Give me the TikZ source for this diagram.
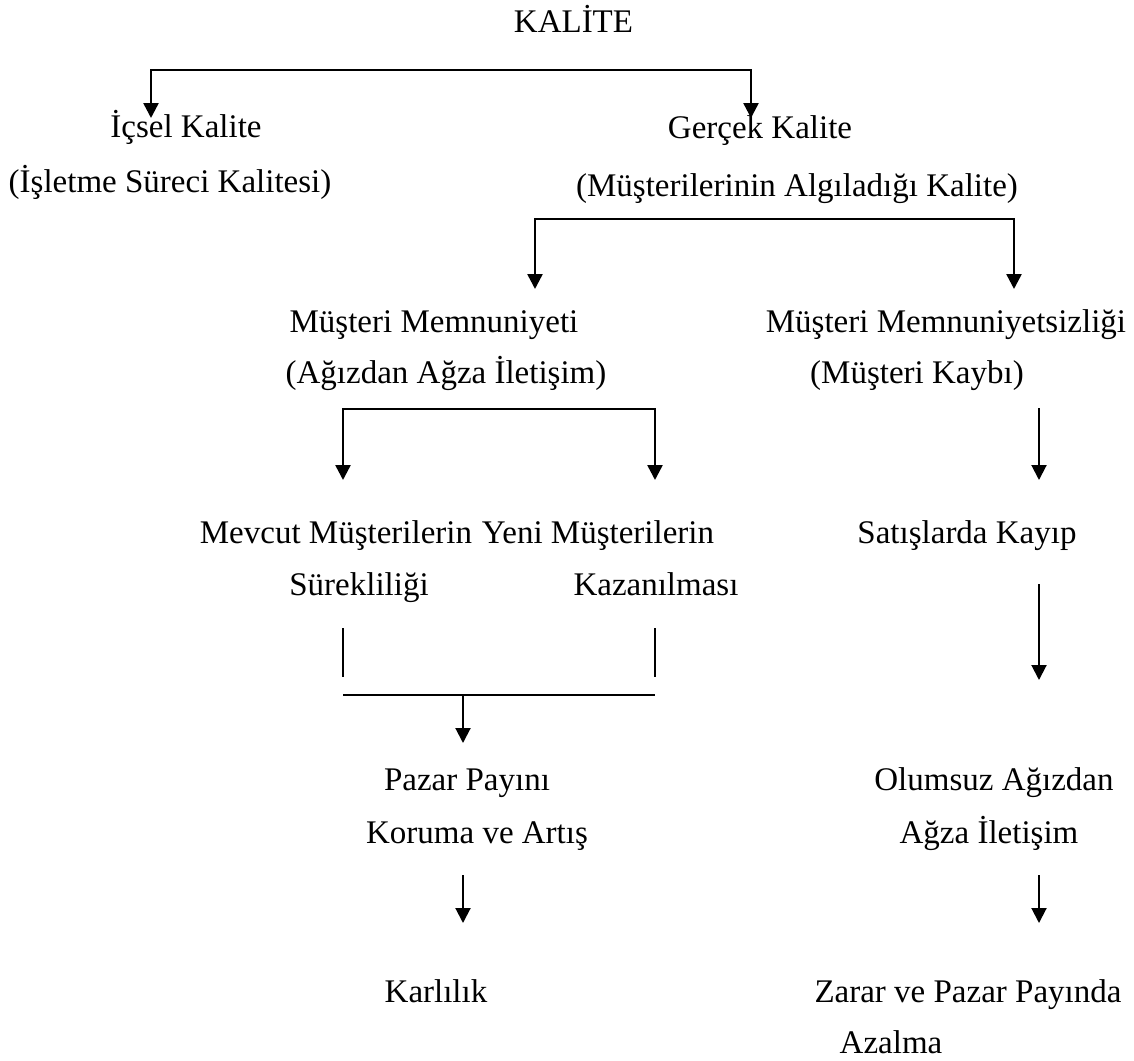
\documentclass[tikz,border=0pt]{standalone}
\usepackage{fontspec}
\setmainfont{Liberation Serif}
\usetikzlibrary{arrows.meta}
\tikzset{
  txt/.style={anchor=base, inner sep=0pt},
  arr/.style={-{Triangle[length=15bp,width=15bp]}, line width=2bp},
  brk/.style={{Triangle[length=15bp,width=15bp]}-{Triangle[length=15bp,width=15bp]}, line width=2.5bp},
  ln/.style={line width=2bp}
}
\begin{document}
\begin{tikzpicture}[x=1bp, y=-1bp, font=\fontsize{33bp}{40bp}\selectfont]
    \useasboundingbox (0,0) rectangle (1134,1061);
    % texts
    \node[txt] (k) at (573.5,32) {KALİTE};
    \node[txt] (ic1) at (186,137) {İçsel Kalite};
    \node[txt] (ic2) at (170,192) {(İşletme Süreci Kalitesi)};
    \node[txt] (gk1) at (760,138) {Gerçek Kalite};
    \node[txt] (gk2) at (797,196) {(Müşterilerinin Algıladığı Kalite)};
    \node[txt] (mm1) at (434,332) {Müşteri Memnuniyeti};
    \node[txt] (mm2) at (446,383) {(Ağızdan Ağza İletişim)};
    \node[txt] (ms1) at (946,332) {Müşteri Memnuniyetsizliği};
    \node[txt] (ms2) at (917,383) {(Müşteri Kaybı)};
    \node[txt] (mv1) at (336,543) {Mevcut Müşterilerin};
    \node[txt] (mv2) at (359,595) {Sürekliliği};
    \node[txt] (yn1) at (598,543) {Yeni Müşterilerin};
    \node[txt] (yn2) at (656,595) {Kazanılması};
    \node[txt] (sk) at (967,543) {Satışlarda Kayıp};
    \node[txt] (pp1) at (467,790) {Pazar Payını};
    \node[txt] (pp2) at (477,843) {Koruma ve Artış};
    \node[txt] (ol1) at (994,790) {Olumsuz Ağızdan};
    \node[txt] (ol2) at (989,843) {Ağza İletişim};
    \node[txt] (kr) at (436,1002) {Karlılık};
    \node[txt] (zr1) at (968,1002) {Zarar ve Pazar Payında};
    \node[txt] (zr2) at (891,1053) {Azalma};
    % connector ends
    \coordinate (k1) at (151,118);
    \coordinate (kt) at (451,70);
    \coordinate (k2) at (751,118);
    \coordinate (g1) at (535,289);
    \coordinate (gt) at (775,219);
    \coordinate (g2) at (1014,289);
    \coordinate (m1) at (343,480);
    \coordinate (mt) at (499,409);
    \coordinate (m2) at (655,480);
    \coordinate (s1) at (1039,408);
    \coordinate (s2) at (1039,480);
    \coordinate (s3) at (1039,584);
    \coordinate (s4) at (1039,680);
    \coordinate (v1) at (343,628);
    \coordinate (v2) at (343,677);
    \coordinate (v3) at (655,628);
    \coordinate (v4) at (655,677);
    \coordinate (h1) at (343,695);
    \coordinate (h2) at (463,695);
    \coordinate (h3) at (655,695);
    \coordinate (p1) at (463,743);
    \coordinate (p2) at (463,875);
    \coordinate (p3) at (463,923);
    \coordinate (o1) at (1039,875);
    \coordinate (o2) at (1039,923);
    % connectors
    \draw[brk] (k1) |- (kt) -| (k2);
    \draw[brk] (g1) |- (gt) -| (g2);
    \draw[brk] (m1) |- (mt) -| (m2);
    \draw[arr] (s1) -- (s2);
    \draw[arr] (s3) -- (s4);
    \draw[ln] (v1) -- (v2);
    \draw[ln] (v3) -- (v4);
    \draw[ln] (h1) -- (h3);
    \draw[arr] (h2) -- (p1);
    \draw[arr] (p2) -- (p3);
    \draw[arr] (o1) -- (o2);
\end{tikzpicture}
\end{document}
